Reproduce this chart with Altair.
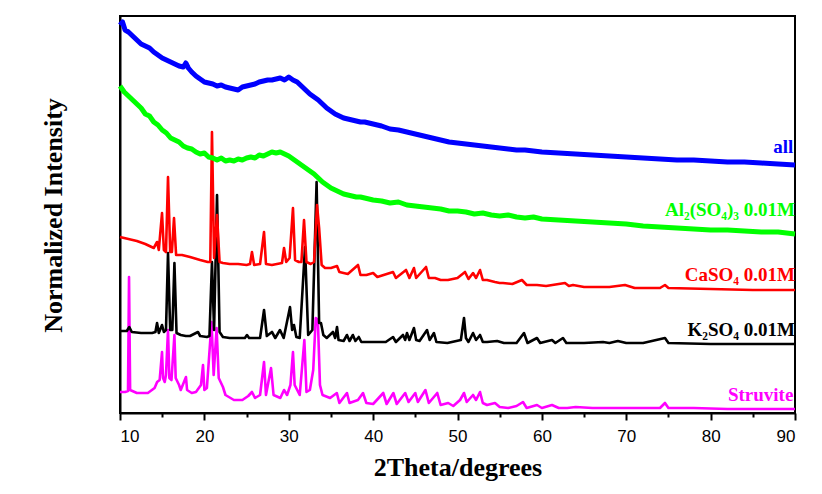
import altair as alt
import pandas as pd

# ---------------- data (2theta in degrees, intensity in arbitrary units incl. stacking offset) ----
struvite_x = [10.0, 10.6, 10.95, 11.07, 11.2, 12.0, 13.3, 14.1, 14.4, 14.7, 14.98, 15.1, 15.3, 15.45,
              15.69, 15.85, 16.1, 16.45, 16.6, 17.0, 17.2, 17.82, 17.95, 18.5, 19.0, 19.6, 19.84, 20.0,
              20.3, 20.85, 21.1, 21.45, 21.7, 22.2, 22.5, 23.5, 24.5, 25.2, 25.64, 26.0, 26.6, 27.07,
              27.3, 27.9, 28.2, 29.0, 29.44, 29.8, 30.2, 30.5, 30.7, 31.0, 31.3, 31.85, 32.1, 32.5,
              32.9, 33.2, 33.45, 33.7, 34.0, 34.3, 34.9, 35.7, 36.0, 36.9, 37.2, 38.2, 38.8, 39.2,
              40.0, 41.2, 41.6, 42.4, 42.8, 43.8, 44.2, 45.0, 45.3, 46.2, 46.6, 47.6, 48.0, 48.9,
              49.5, 50.3, 50.77, 51.1, 51.84, 52.2, 52.67, 53.0, 53.5, 54.44, 55.0, 56.0, 57.0, 57.76,
              58.2, 59.42, 60.0, 61.2, 62.0, 63.0, 64.0, 66.0, 68.0, 70.0, 72.0, 74.0, 74.59, 75.0,
              78.0, 82.0, 86.0, 90.0]
struvite_y = [21, 21, 22, 136, 23, 20, 20, 25, 31, 33, 61, 35, 31, 38,
              83, 35, 33, 78, 35, 28, 23, 36, 23, 20, 21, 28, 48, 23,
              25, 91, 38, 85, 35, 26, 18, 13, 13, 17, 21, 15, 18, 51,
              18, 45, 18, 15, 23, 18, 28, 61, 28, 23, 18, 73, 21, 23,
              43, 95, 93, 28, 18, 17, 15, 20, 10, 20, 10, 13, 20, 10,
              9, 20, 9, 20, 9, 20, 11, 20, 11, 23, 10, 20, 8, 10,
              7, 13, 20, 11, 18, 13, 21, 10, 8, 10, 6, 5, 7, 11,
              5, 8, 5, 8, 5, 5, 6, 5, 5, 5, 5, 5, 10, 5,
              5, 4, 4, 4]

k2so4_x = [10.0, 10.8, 11.1, 11.4, 12.5, 13.8, 14.2, 14.39, 14.6, 14.98, 15.2, 15.45, 15.69, 15.95,
           16.2, 16.45, 16.7, 17.2, 17.8, 18.3, 19.24, 19.5, 20.3, 20.6, 20.9, 21.15, 21.5, 21.8,
           22.2, 23.0, 24.0, 24.8, 25.05, 25.3, 26.6, 27.07, 27.4, 28.01, 28.4, 28.96, 29.4, 30.15,
           30.4, 30.62, 30.9, 31.3, 31.93, 32.3, 32.8, 33.3, 33.6, 33.82, 34.1, 34.5, 35.24, 35.5,
           35.72, 35.9, 36.5, 36.9, 37.2, 37.6, 37.9, 38.3, 38.6, 41.5, 42.36, 42.7, 43.54, 43.8,
           44.01, 44.3, 44.84, 45.1, 45.5, 46.39, 46.7, 47.21, 47.5, 48.8, 50.4, 50.77, 51.0, 51.3,
           51.84, 52.2, 52.67, 53.0, 53.5, 54.7, 55.5, 57.0, 57.88, 58.3, 59.42, 59.8, 61.2, 61.6,
           62.5, 62.9, 65.0, 67.24, 68.0, 69.0, 70.0, 72.0, 74.59, 75.0, 80.0, 85.0, 90.0]
k2so4_y = [82, 82, 86, 81, 80, 80, 81, 90, 80, 88, 81, 83, 160, 83,
           83, 150, 80, 78, 77, 77, 81, 77, 76, 77, 151, 83, 218, 81,
           76, 75, 75, 75, 78, 75, 75, 103, 77, 81, 75, 83, 75, 106,
           83, 88, 76, 75, 166, 78, 83, 231, 90, 90, 78, 75, 81, 75,
           86, 73, 72, 78, 72, 78, 72, 76, 71, 71, 76, 71, 78, 73,
           80, 73, 85, 73, 72, 83, 73, 80, 71, 70, 73, 95, 75, 71,
           80, 73, 78, 71, 71, 72, 70, 70, 80, 70, 75, 70, 73, 70,
           75, 70, 70, 71, 70, 72, 70, 70, 75, 70, 69, 69, 69]

caso4_x = [10.0, 11.0, 12.0, 13.0, 14.0, 14.39, 14.6, 14.98, 15.2, 15.45, 15.69, 15.95, 16.15, 16.4,
           16.65, 17.35, 18.3, 19.5, 20.4, 20.7, 20.9, 21.15, 21.5, 21.8, 22.2, 23.0, 24.0, 25.0,
           25.41, 25.64, 25.9, 26.6, 27.07, 27.3, 28.0, 28.6, 29.2, 29.44, 29.7, 30.1, 30.5, 30.75,
           31.2, 31.5, 31.81, 32.1, 32.6, 33.0, 33.35, 33.6, 33.9, 34.3, 35.0, 35.72, 36.0, 37.0,
           38.21, 38.5, 39.2, 40.0, 40.5, 42.36, 42.7, 43.9, 44.3, 44.84, 45.1, 46.27, 46.6, 47.33,
           48.0, 48.87, 50.0, 50.89, 51.3, 51.84, 52.2, 52.67, 53.0, 53.5, 54.44, 55.0, 55.39, 56.5,
           57.64, 58.2, 59.42, 60.5, 62.74, 63.2, 63.69, 65.0, 66.06, 68.0, 69.85, 71.0, 74.0, 74.59,
           75.0, 80.0, 85.0, 90.0]
caso4_y = [176, 174, 172, 169, 165, 171, 163, 200, 163, 161, 236, 161, 161, 195,
           158, 158, 156, 153, 151, 151, 281, 155, 198, 151, 150, 149, 149, 148,
           149, 161, 148, 149, 181, 149, 148, 149, 150, 165, 151, 155, 205, 153,
           151, 151, 193, 151, 149, 151, 208, 185, 148, 145, 145, 147, 141, 139,
           148, 138, 138, 140, 136, 141, 135, 143, 135, 145, 135, 146, 135, 135,
           133, 133, 135, 141, 134, 140, 135, 143, 133, 133, 131, 130, 130, 129,
           133, 128, 128, 127, 130, 127, 128, 126, 126, 126, 128, 125, 125, 128,
           125, 124, 123, 123]

al_x = [10.0, 10.5, 11.0, 11.5, 12.0, 12.5, 13.0, 13.5, 14.0, 14.5, 15.0, 15.5, 16.0, 16.5, 17.0,
        17.5, 18.0, 18.5, 19.0, 19.5, 20.0, 20.5, 21.0, 21.5, 22.0, 22.5, 23.0, 23.5, 24.0, 24.5,
        25.0, 25.5, 26.0, 26.5, 27.0, 27.5, 28.0, 28.5, 29.0, 29.5, 30.0, 30.5, 31.0, 31.5, 32.0,
        32.5, 33.0, 33.5, 34.0, 34.5, 35.0, 35.5, 36.0, 36.5, 37.0, 37.5, 38.0, 38.5, 39.0, 40.0,
        41.0, 42.0, 43.0, 44.0, 45.0, 46.0, 47.0, 48.0, 49.0, 50.0, 51.0, 52.0, 53.0, 54.0, 55.0,
        56.0, 57.0, 58.0, 59.0, 60.0, 62.0, 64.0, 66.0, 68.0, 70.0, 72.0, 74.0, 76.0, 78.0, 80.0,
        82.0, 84.0, 86.0, 88.0, 90.0]
al_y = [327, 321, 317, 313, 309, 305, 299, 297, 291, 288, 283, 280, 275, 273, 271,
        267, 265, 264, 261, 259, 260, 256, 255, 253, 255, 252, 253, 252, 254, 253,
        255, 256, 255, 258, 257, 259, 261, 260, 261, 259, 257, 254, 251, 248, 245,
        242, 239, 235, 231, 228, 225, 223, 221, 219, 218, 217, 216, 216, 215, 213,
        212, 210, 211, 208, 207, 206, 205, 204, 202, 202, 201, 199, 200, 198, 197,
        198, 196, 195, 196, 194, 193, 192, 191, 190, 189, 187, 186, 185, 184, 183,
        183, 182, 181, 181, 179]

all_x = [10.0, 10.3, 10.6, 11.0, 11.5, 12.0, 12.5, 13.0, 13.5, 14.0, 14.5, 15.0, 15.5, 16.0, 16.5,
         17.0, 17.5, 17.8, 18.1, 18.5, 19.0, 19.5, 20.0, 20.5, 21.0, 21.5, 22.0, 22.5, 23.0, 23.5,
         24.0, 24.5, 25.0, 25.5, 26.0, 26.5, 27.0, 27.5, 28.0, 28.5, 29.0, 29.5, 30.0, 30.5, 31.0,
         31.5, 32.0, 32.5, 33.0, 33.5, 34.0, 34.5, 35.0, 35.5, 36.0, 36.5, 37.0, 37.5, 38.0, 38.5,
         39.0, 40.0, 41.0, 42.0, 43.0, 44.0, 45.0, 46.0, 47.0, 48.0, 49.0, 50.0, 51.0, 52.0, 53.0,
         54.0, 55.0, 56.0, 57.0, 58.0, 59.0, 60.0, 62.0, 64.0, 66.0, 68.0, 70.0, 72.0, 74.0, 76.0,
         78.0, 80.0, 82.0, 84.0, 86.0, 88.0, 90.0]
all_y = [388, 391, 383, 381, 377, 373, 369, 367, 365, 361, 358, 355, 353, 351, 349,
         347, 346, 350, 345, 341, 337, 334, 331, 330, 329, 327, 328, 326, 325, 324,
         323, 326, 327, 328, 329, 331, 332, 333, 333, 334, 335, 333, 336, 333, 331,
         327, 323, 319, 316, 313, 309, 305, 302, 299, 297, 295, 294, 293, 292, 291,
         291, 289, 287, 284, 283, 281, 279, 277, 275, 273, 271, 270, 269, 268, 267,
         266, 265, 264, 263, 263, 262, 261, 260, 259, 258, 257, 256, 255, 254, 253,
         253, 252, 251, 251, 250, 249, 248]

series_names = ["Struvite", "K2SO4", "CaSO4", "Al2(SO4)3", "all"]
series_colors = ["#ff00ff", "#000000", "#ff0000", "#00ff00", "#0000ff"]
series_x = [struvite_x, k2so4_x, caso4_x, al_x, all_x]
series_y = [struvite_y, k2so4_y, caso4_y, al_y, all_y]
series_widths = [2.6, 2.6, 2.6, 5, 5]

label_texts = ["Struvite", "K\u2082SO\u2084 0.01M", "CaSO\u2084 0.01M",
               "Al\u2082(SO\u2084)\u2083 0.01M", "all"]
label_x = [89.8, 90.0, 90.0, 90.0, 89.8]
label_y = [18, 83, 138, 203, 266]

x_ticks = [10, 20, 30, 40, 50, 60, 70, 80, 90]
x_minor = [15, 25, 35, 45, 55, 65, 75, 85]

SERIF = "Liberation Serif"
SANS = "Liberation Sans"

x_scale = alt.Scale(domain=[10, 90], nice=False, zero=False)
y_scale = alt.Scale(domain=[0, 397], nice=False, zero=False)

x_enc = alt.X("deg:Q", scale=x_scale,
              axis=alt.Axis(orient="bottom", values=x_ticks, title="2Theta/degrees", grid=False,
                            tickSize=7, tickWidth=2, tickColor="black",
                            domainColor="black", domainWidth=2,
                            labelFont=SANS, labelFontSize=17, labelColor="black",
                            labelPadding=8, titleFont=SERIF, titleFontSize=26,
                            titleFontWeight="bold", titleColor="black", titlePadding=10,
                            format="d"))
y_enc = alt.Y("inten:Q", scale=y_scale,
              axis=alt.Axis(title="Normalized Intensity", labels=False, ticks=False, grid=False,
                            domainColor="black", domainWidth=2,
                            titleFont=SERIF, titleFontSize=26, titleFontWeight="bold",
                            titleColor="black", titleAngle=270, titleBaseline="middle",
                            titleAlign="center", titleX=-67, titleY=199))

layers = []
for name, col, xs, ys, w in zip(series_names, series_colors, series_x, series_y, series_widths):
    df = pd.DataFrame({"deg": xs, "inten": ys})
    layers.append(alt.Chart(df).mark_line(color=col, strokeWidth=w, strokeJoin="round")
                  .encode(x=x_enc, y=y_enc))

lab_df = pd.DataFrame({"deg": label_x, "inten": label_y, "label": label_texts,
                       "col": series_colors})
labels = alt.Chart(lab_df).mark_text(font=SERIF, fontSize=19, fontWeight="bold",
                                     align="right", baseline="middle").encode(
    x=x_enc, y=y_enc, text="label:N", color=alt.Color("col:N", scale=None))
layers.append(labels)

main = alt.layer(*layers)

minor_df = pd.DataFrame({"deg": x_minor})
minor = alt.Chart(minor_df).mark_point(opacity=0).encode(
    x=alt.X("deg:Q", scale=alt.Scale(domain=[10, 90], nice=False, zero=False),
            axis=alt.Axis(orient="bottom", values=x_minor, labels=False, title=None,
                          grid=False, domain=False, tickSize=4, tickWidth=2,
                          tickColor="black")))

chart = alt.layer(main, minor).resolve_scale(x="independent").properties(
    width=675, height=397,
    autosize=alt.AutoSizeParams(type="none"),
    padding={"left": 112, "top": 8, "right": 19, "bottom": 70},
    background="white",
).configure_view(stroke="black", strokeWidth=2)

chart.save("out.html", embed_options={"renderer": "svg", "actions": False})
